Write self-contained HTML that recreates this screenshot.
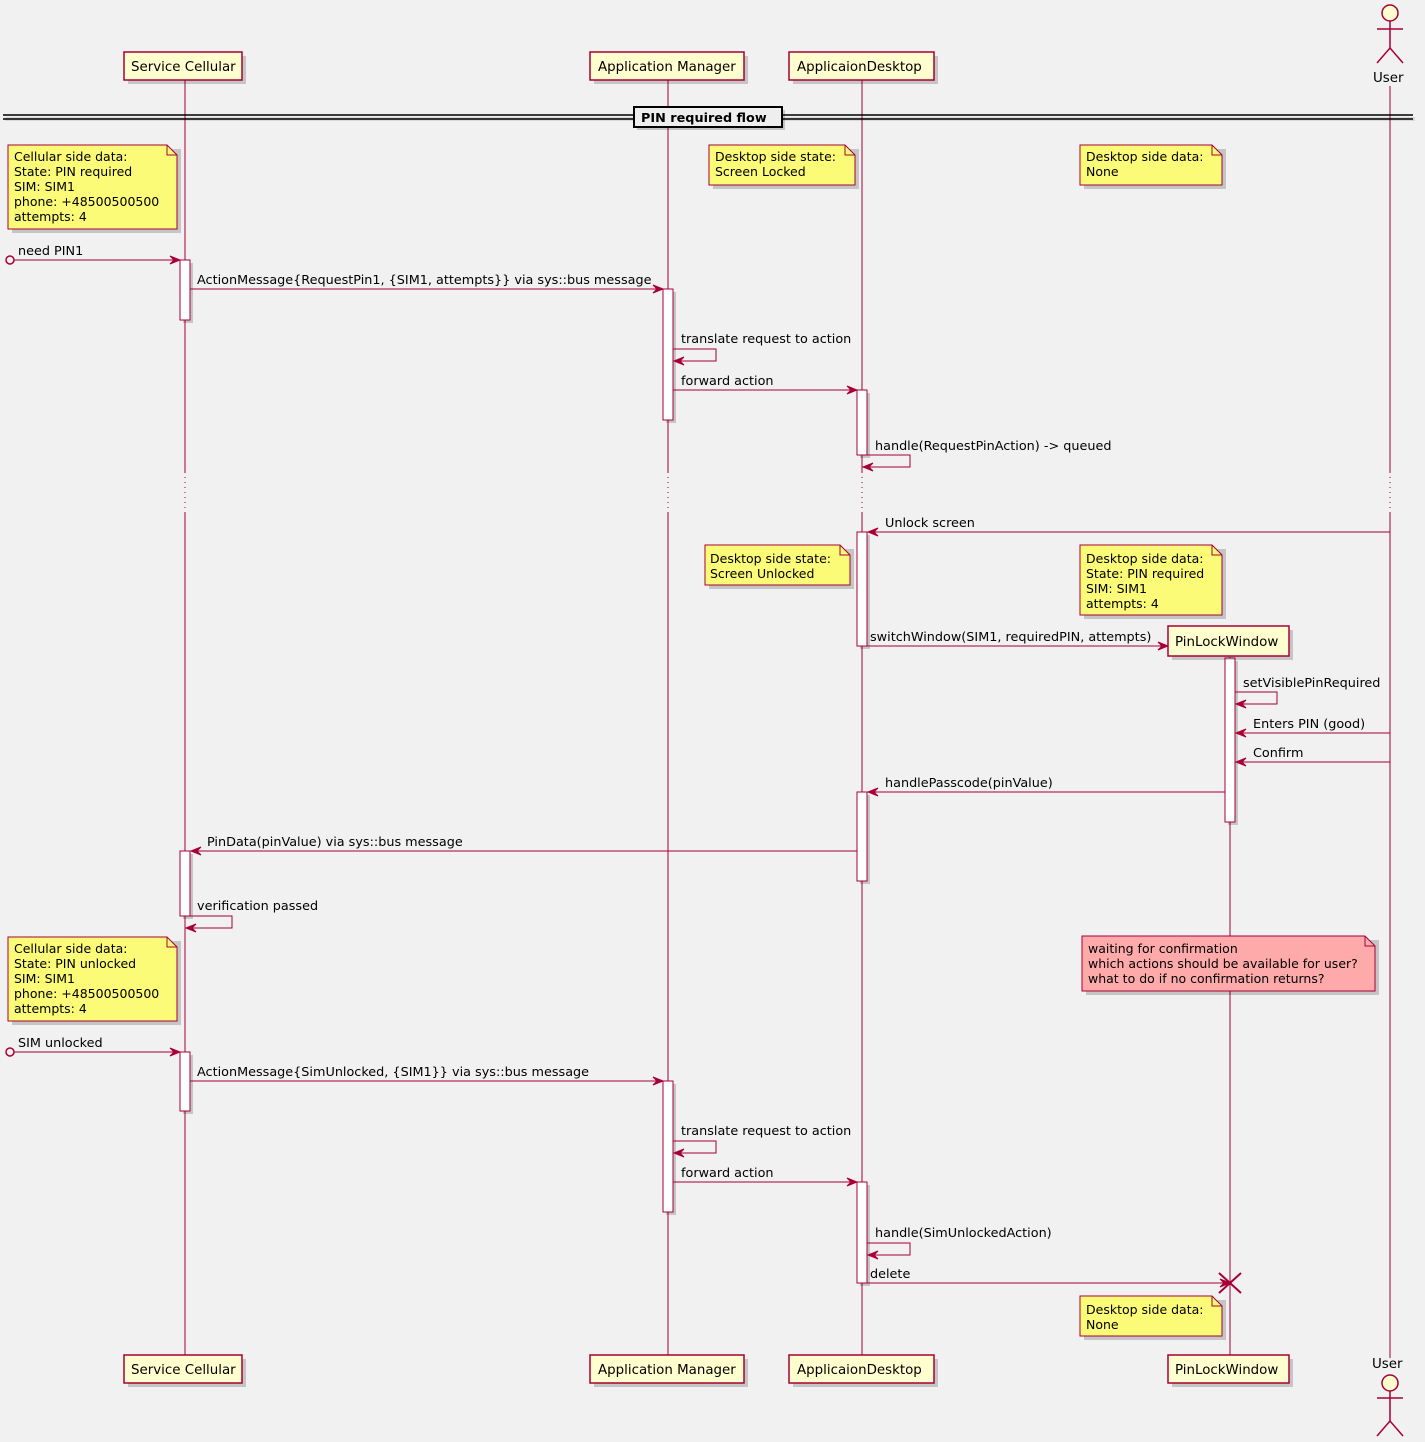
<!DOCTYPE html>
<html><head><meta charset="utf-8"><style>
html,body{margin:0;padding:0;background:#F1F1F1;}
svg{display:block;}
text{font-family:"DejaVu Sans","Liberation Sans",sans-serif;font-size:12.8px;fill:#000;}
.nt{font-size:12.5px;}
.ll{stroke:#A80036;stroke-width:1;}
.dot{stroke:#A80036;stroke-width:1;stroke-dasharray:1,4;}
.m{stroke:#A80036;stroke-width:1;fill:none;}
.ah{fill:#A80036;stroke:#A80036;}
.box{fill:#FEFECE;stroke:#A80036;stroke-width:1.5;}
.act{fill:#FFFFFF;stroke:#A80036;stroke-width:1;}
.note{fill:#FBFB77;stroke:#A80036;stroke-width:1;}
.rnote{fill:#FFAAAA;stroke:#A80036;stroke-width:1;}
.sh{fill:#000;opacity:0.18;}
.pt{font-size:13.4px;}
</style></head><body>
<svg width="1425" height="1442" viewBox="0 0 1425 1442" xmlns="http://www.w3.org/2000/svg">
<rect width="1425" height="1442" fill="#F1F1F1"/>

<g class="ll">
<line x1="185" y1="80" x2="185" y2="472"/><line x1="185" y1="512" x2="185" y2="1355"/>
<line x1="668" y1="80" x2="668" y2="472"/><line x1="668" y1="512" x2="668" y2="1355"/>
<line x1="862" y1="80" x2="862" y2="472"/><line x1="862" y1="512" x2="862" y2="1355"/>
<line x1="1390" y1="86" x2="1390" y2="472"/><line x1="1390" y1="512" x2="1390" y2="1358"/>
<line x1="1230" y1="657" x2="1230" y2="1355"/>
</g>
<g class="dot">
<line x1="185" y1="472" x2="185" y2="512"/>
<line x1="668" y1="472" x2="668" y2="512"/>
<line x1="862" y1="472" x2="862" y2="512"/>
<line x1="1390" y1="472" x2="1390" y2="512"/>
</g>

<rect class="sh" x="128" y="56" width="118" height="28"/>
<rect class="box" x="124" y="52" width="118" height="28"/>
<text class="pt" x="131" y="71">Service Cellular</text>
<rect class="sh" x="594" y="56" width="154" height="28"/>
<rect class="box" x="590" y="52" width="154" height="28"/>
<text class="pt" x="598" y="71">Application Manager</text>
<rect class="sh" x="793" y="56" width="145" height="28"/>
<rect class="box" x="789" y="52" width="145" height="28"/>
<text class="pt" x="797" y="71">ApplicaionDesktop</text>

<g stroke="#A80036" stroke-width="1.5" fill="none">
<circle cx="1390" cy="13" r="8" fill="#FEFECE"/>
<line x1="1390" y1="21" x2="1390" y2="48"/>
<line x1="1377" y1="29" x2="1403" y2="29"/>
<line x1="1390" y1="48" x2="1377" y2="63"/>
<line x1="1390" y1="48" x2="1403" y2="63"/>
</g>
<text class="pt" x="1373" y="82">User</text>

<rect x="3" y="115" width="1410" height="4" fill="#000" opacity="0.1" transform="translate(2,2)"/>
<line x1="3" y1="115" x2="1413" y2="115" stroke="#000" stroke-width="1.5"/>
<line x1="3" y1="119" x2="1413" y2="119" stroke="#000" stroke-width="1.5"/>
<rect x="637" y="110" width="148" height="20" class="sh"/>
<rect x="634" y="107" width="148" height="20" fill="#EEEEEE" stroke="#000" stroke-width="2"/>
<text x="641" y="122" style="font-weight:bold">PIN required flow</text>

<path class="sh" d="M12,149 L181,149 L181,233 L12,233Z"/>
<path class="note" d="M8,145 L167,145 L177,155 L177,229 L8,229Z"/>
<path class="m" d="M167,145 L167,155 L177,155"/>
<text class="nt" x="14" y="161">Cellular side data:</text>
<text class="nt" x="14" y="176">State: PIN required</text>
<text class="nt" x="14" y="191">SIM: SIM1</text>
<text class="nt" x="14" y="206">phone: +48500500500</text>
<text class="nt" x="14" y="221">attempts: 4</text>

<path class="sh" d="M713,149 L859,149 L859,189 L713,189Z"/>
<path class="note" d="M709,145 L845,145 L855,155 L855,185 L709,185Z"/>
<path class="m" d="M845,145 L845,155 L855,155"/>
<text class="nt" x="715" y="161">Desktop side state:</text>
<text class="nt" x="715" y="176">Screen Locked</text>

<path class="sh" d="M1084,149 L1226,149 L1226,189 L1084,189Z"/>
<path class="note" d="M1080,145 L1212,145 L1222,155 L1222,185 L1080,185Z"/>
<path class="m" d="M1212,145 L1212,155 L1222,155"/>
<text class="nt" x="1086" y="161">Desktop side data:</text>
<text class="nt" x="1086" y="176">None</text>

<g>
<rect class="sh" x="183" y="263" width="10" height="60"/><rect class="act" x="180" y="260" width="10" height="60"/>
<rect class="sh" x="666" y="292" width="10" height="131"/><rect class="act" x="663" y="289" width="10" height="131"/>
<rect class="sh" x="860" y="393" width="10" height="65"/><rect class="act" x="857" y="390" width="10" height="65"/>
<rect class="sh" x="860" y="535" width="10" height="114"/><rect class="act" x="857" y="532" width="10" height="114"/>
<rect class="sh" x="1228" y="661" width="10" height="164"/><rect class="act" x="1225" y="658" width="10" height="164"/>
<rect class="sh" x="860" y="795" width="10" height="89"/><rect class="act" x="857" y="792" width="10" height="89"/>
<rect class="sh" x="183" y="854" width="10" height="65"/><rect class="act" x="180" y="851" width="10" height="65"/>
<rect class="sh" x="183" y="1055" width="10" height="59"/><rect class="act" x="180" y="1052" width="10" height="59"/>
<rect class="sh" x="666" y="1084" width="10" height="131"/><rect class="act" x="663" y="1081" width="10" height="131"/>
<rect class="sh" x="860" y="1185" width="10" height="101"/><rect class="act" x="857" y="1182" width="10" height="101"/>
</g>

<circle cx="10" cy="260" r="4" fill="#F1F1F1" stroke="#A80036" stroke-width="1.5"/>
<line class="m" x1="14" y1="260" x2="178" y2="260"/>
<polygon class="ah" points="180,260 170,256 174,260 170,264"/>
<text x="18" y="255">need PIN1</text>

<line class="m" x1="190" y1="289" x2="661" y2="289"/>
<polygon class="ah" points="663,289 653,285 657,289 653,293"/>
<text x="197" y="284">ActionMessage{RequestPin1, {SIM1, attempts}} via sys::bus message</text>

<polyline class="m" points="673,349 716,349 716,361 674,361"/>
<polygon class="ah" points="674,361 684,357 680,361 684,365"/>
<text x="681" y="343">translate request to action</text>

<line class="m" x1="673" y1="390" x2="855" y2="390"/>
<polygon class="ah" points="857,390 847,386 851,390 847,394"/>
<text x="681" y="385">forward action</text>

<polyline class="m" points="867,455 910,455 910,467 863,467"/>
<polygon class="ah" points="863,467 873,463 869,467 873,471"/>
<text x="875" y="450">handle(RequestPinAction) -&gt; queued</text>

<line class="m" x1="1390" y1="532" x2="869" y2="532"/>
<polygon class="ah" points="868,532 878,528 874,532 878,536"/>
<text x="885" y="527">Unlock screen</text>

<path class="sh" d="M709,549 L854,549 L854,589 L709,589Z"/>
<path class="note" d="M705,545 L840,545 L850,555 L850,585 L705,585Z"/>
<path class="m" d="M840,545 L840,555 L850,555"/>
<text class="nt" x="710" y="563">Desktop side state:</text>
<text class="nt" x="710" y="578">Screen Unlocked</text>

<path class="sh" d="M1084,549 L1226,549 L1226,619 L1084,619Z"/>
<path class="note" d="M1080,545 L1212,545 L1222,555 L1222,615 L1080,615Z"/>
<path class="m" d="M1212,545 L1212,555 L1222,555"/>
<text class="nt" x="1086" y="563">Desktop side data:</text>
<text class="nt" x="1086" y="578">State: PIN required</text>
<text class="nt" x="1086" y="593">SIM: SIM1</text>
<text class="nt" x="1086" y="608">attempts: 4</text>

<line class="m" x1="867" y1="646" x2="1166" y2="646"/>
<polygon class="ah" points="1168,646 1158,642 1162,646 1158,650"/>
<text x="870" y="641">switchWindow(SIM1, requiredPIN, attempts)</text>
<rect class="sh" x="1172" y="630" width="121" height="30"/>
<rect class="box" x="1168" y="626" width="121" height="30"/>
<text class="pt" x="1175" y="646">PinLockWindow</text>

<polyline class="m" points="1235,692 1277,692 1277,704 1236,704"/>
<polygon class="ah" points="1236,704 1246,700 1242,704 1246,708"/>
<text x="1243" y="687">setVisiblePinRequired</text>

<line class="m" x1="1390" y1="733" x2="1237" y2="733"/>
<polygon class="ah" points="1236,733 1246,729 1242,733 1246,737"/>
<text x="1253" y="728">Enters PIN (good)</text>

<line class="m" x1="1390" y1="762" x2="1237" y2="762"/>
<polygon class="ah" points="1236,762 1246,758 1242,762 1246,766"/>
<text x="1253" y="757">Confirm</text>

<line class="m" x1="1225" y1="792" x2="869" y2="792"/>
<polygon class="ah" points="868,792 878,788 874,792 878,796"/>
<text x="885" y="787">handlePasscode(pinValue)</text>

<line class="m" x1="857" y1="851" x2="192" y2="851"/>
<polygon class="ah" points="191,851 201,847 197,851 201,855"/>
<text x="207" y="846">PinData(pinValue) via sys::bus message</text>

<polyline class="m" points="190,916 232,916 232,928 186,928"/>
<polygon class="ah" points="186,928 196,924 192,928 196,932"/>
<text x="197" y="910">verification passed</text>

<path class="sh" d="M12,941 L181,941 L181,1025 L12,1025Z"/>
<path class="note" d="M8,937 L167,937 L177,947 L177,1021 L8,1021Z"/>
<path class="m" d="M167,937 L167,947 L177,947"/>
<text class="nt" x="14" y="953">Cellular side data:</text>
<text class="nt" x="14" y="968">State: PIN unlocked</text>
<text class="nt" x="14" y="983">SIM: SIM1</text>
<text class="nt" x="14" y="998">phone: +48500500500</text>
<text class="nt" x="14" y="1013">attempts: 4</text>

<path class="sh" d="M1086,940 L1379,940 L1379,995 L1086,995Z"/>
<path class="rnote" d="M1082,936 L1365,936 L1375,946 L1375,991 L1082,991Z"/>
<path class="m" d="M1365,936 L1365,946 L1375,946"/>
<text class="nt" x="1088" y="953">waiting for confirmation</text>
<text class="nt" x="1088" y="968">which actions should be available for user?</text>
<text class="nt" x="1088" y="983">what to do if no confirmation returns?</text>

<circle cx="10" cy="1052" r="4" fill="#F1F1F1" stroke="#A80036" stroke-width="1.5"/>
<line class="m" x1="14" y1="1052" x2="178" y2="1052"/>
<polygon class="ah" points="180,1052 170,1048 174,1052 170,1056"/>
<text x="18" y="1047">SIM unlocked</text>

<line class="m" x1="190" y1="1081" x2="661" y2="1081"/>
<polygon class="ah" points="663,1081 653,1077 657,1081 653,1085"/>
<text x="197" y="1076">ActionMessage{SimUnlocked, {SIM1}} via sys::bus message</text>

<polyline class="m" points="673,1141 716,1141 716,1153 674,1153"/>
<polygon class="ah" points="674,1153 684,1149 680,1153 684,1157"/>
<text x="681" y="1135">translate request to action</text>

<line class="m" x1="673" y1="1182" x2="855" y2="1182"/>
<polygon class="ah" points="857,1182 847,1178 851,1182 847,1186"/>
<text x="681" y="1177">forward action</text>

<polyline class="m" points="867,1243 910,1243 910,1255 868,1255"/>
<polygon class="ah" points="868,1255 878,1251 874,1255 878,1259"/>
<text x="875" y="1237">handle(SimUnlockedAction)</text>

<line class="m" x1="867" y1="1283" x2="1228" y2="1283"/>
<polygon class="ah" points="1230,1283 1220,1279 1224,1283 1220,1287"/>
<text x="870" y="1278">delete</text>
<g stroke="#A80036" stroke-width="2"><line x1="1219" y1="1273" x2="1241" y2="1293"/><line x1="1241" y1="1273" x2="1219" y2="1293"/></g>

<path class="sh" d="M1084,1300 L1226,1300 L1226,1340 L1084,1340Z"/>
<path class="note" d="M1080,1296 L1212,1296 L1222,1306 L1222,1336 L1080,1336Z"/>
<path class="m" d="M1212,1296 L1212,1306 L1222,1306"/>
<text class="nt" x="1086" y="1314">Desktop side data:</text>
<text class="nt" x="1086" y="1329">None</text>

<rect class="sh" x="128" y="1359" width="118" height="28"/>
<rect class="box" x="124" y="1355" width="118" height="28"/>
<text class="pt" x="131" y="1374">Service Cellular</text>
<rect class="sh" x="594" y="1359" width="154" height="28"/>
<rect class="box" x="590" y="1355" width="154" height="28"/>
<text class="pt" x="598" y="1374">Application Manager</text>
<rect class="sh" x="793" y="1359" width="145" height="28"/>
<rect class="box" x="789" y="1355" width="145" height="28"/>
<text class="pt" x="797" y="1374">ApplicaionDesktop</text>
<rect class="sh" x="1172" y="1359" width="121" height="28"/>
<rect class="box" x="1168" y="1355" width="121" height="28"/>
<text class="pt" x="1175" y="1374">PinLockWindow</text>

<text class="pt" x="1372" y="1368">User</text>
<g stroke="#A80036" stroke-width="1.5" fill="none">
<circle cx="1390" cy="1383" r="8" fill="#FEFECE"/>
<line x1="1390" y1="1391" x2="1390" y2="1421"/>
<line x1="1377" y1="1398" x2="1403" y2="1398"/>
<line x1="1390" y1="1421" x2="1377" y2="1436"/>
<line x1="1390" y1="1421" x2="1403" y2="1436"/>
</g>
</svg>
</body></html>
